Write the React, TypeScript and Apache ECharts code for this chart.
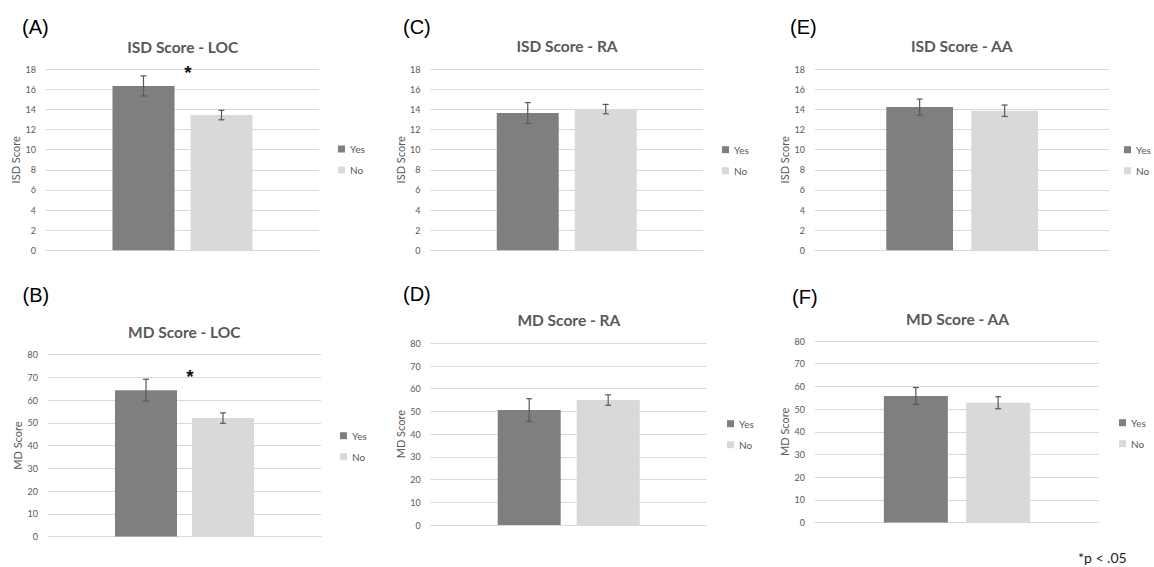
import React, { useEffect, useRef } from "react";
import * as echarts from "echarts";

// ---------- data ----------
const groups = ["Yes", "No"];

const isdLocMean = [16.35, 13.45];
const isdLocErr = [1.0, 0.47];
const mdLocMean = [64.4, 52.1];
const mdLocErr = [4.8, 2.3];

const isdRaMean = [13.65, 14.04];
const isdRaErr = [1.04, 0.47];
const mdRaMean = [50.6, 55.0];
const mdRaErr = [5.0, 2.3];

const isdAaMean = [14.24, 13.88];
const isdAaErr = [0.8, 0.57];
const mdAaMean = [55.8, 52.8];
const mdAaErr = [3.7, 2.65];

const isdAxisMax = 18;
const isdAxisStep = 2;
const mdAxisMax = 80;
const mdAxisStep = 10;

// significance marker heights (value units) for the LOC panels
const sigIsdLoc = [18];
const sigMdLoc = [72];

const panelLabels = ["(A)", "(B)", "(C)", "(D)", "(E)", "(F)"];
const panelTitles = [
  "ISD Score - LOC",
  "MD Score - LOC",
  "ISD Score - RA",
  "MD Score - RA",
  "ISD Score - AA",
  "MD Score - AA",
];
const axisNames = ["ISD Score", "MD Score", "ISD Score", "MD Score", "ISD Score", "MD Score"];
const footnote = "*p < .05";

// ---------- layout ----------
const panels = [
  { mean: isdLocMean, err: isdLocErr, max: isdAxisMax, step: isdAxisStep, sig: sigIsdLoc,
    grid: { left: 46, top: 69.3, width: 273, height: 181 }, barW: 62, gap: 16,
    legend: { left: 338, top: 143 }, title: [182.7, 46.5], label: [22, 26.5] },
  { mean: mdLocMean, err: mdLocErr, max: mdAxisMax, step: mdAxisStep, sig: sigMdLoc,
    grid: { left: 48, top: 354.7, width: 273, height: 181.8 }, barW: 62, gap: 15,
    legend: { left: 340, top: 429.7 }, title: [184.3, 332], label: [22.5, 295] },
  { mean: isdRaMean, err: isdRaErr, max: isdAxisMax, step: isdAxisStep, sig: [],
    grid: { left: 430.5, top: 69.3, width: 272.5, height: 181 }, barW: 62, gap: 16,
    legend: { left: 722, top: 143.7 }, title: [567, 46], label: [403, 27] },
  { mean: mdRaMean, err: mdRaErr, max: mdAxisMax, step: mdAxisStep, sig: [],
    grid: { left: 430.7, top: 343.3, width: 276, height: 181.7 }, barW: 63, gap: 16,
    legend: { left: 727, top: 417.7 }, title: [568.8, 320], label: [403, 294] },
  { mean: isdAaMean, err: isdAaErr, max: isdAxisMax, step: isdAxisStep, sig: [],
    grid: { left: 815, top: 69.3, width: 294.3, height: 181 }, barW: 66.7, gap: 18.3,
    legend: { left: 1124, top: 143.7 }, title: [961.7, 46], label: [790, 26.5] },
  { mean: mdAaMean, err: mdAaErr, max: mdAxisMax, step: mdAxisStep, sig: [],
    grid: { left: 815, top: 341, width: 284, height: 181.6 }, barW: 64, gap: 18.3,
    legend: { left: 1119, top: 416.7 }, title: [957.5, 318.5], label: [792, 297] },
];

const YES_COLOR = "#7f7f7f";
const NO_COLOR = "#d9d9d9";
const GRID_COLOR = "#d9d9d9";
const TEXT_COLOR = "#595959";
const EXCEL_FONT = "Lato, 'Open Sans', sans-serif";

function buildOption() {
  const grid: any[] = [];
  const xAxis: any[] = [];
  const yAxis: any[] = [];
  const series: any[] = [];
  const legend: any[] = [];
  const graphic: any[] = [];

  panels.forEach((p, i) => {
    grid.push({ ...p.grid, containLabel: false });
    xAxis.push({
      type: "category",
      gridIndex: i,
      data: [""],
      axisLine: { show: true, lineStyle: { color: GRID_COLOR, width: 1 } },
      axisTick: { show: false },
      axisLabel: { show: false },
    });
    yAxis.push({
      type: "value",
      gridIndex: i,
      min: 0,
      max: p.max,
      interval: p.step,
      name: axisNames[i],
      nameLocation: "middle",
      nameGap: 25,
      nameTextStyle: { fontSize: 11, color: TEXT_COLOR, fontFamily: EXCEL_FONT },
      axisLine: { show: false },
      axisTick: { show: false },
      axisLabel: { fontSize: 9, color: TEXT_COLOR, fontFamily: EXCEL_FONT, margin: 10 },
      splitLine: { show: true, lineStyle: { color: GRID_COLOR, width: 1 } },
    });
    const gapPct = ((p.gap / p.barW) * 100).toFixed(1) + "%";
    groups.forEach((g, k) => {
      series.push({
        type: "bar",
        name: g,
        xAxisIndex: i,
        yAxisIndex: i,
        data: [p.mean[k]],
        barWidth: p.barW,
        barGap: gapPct,
        itemStyle: { color: k === 0 ? YES_COLOR : NO_COLOR },
        z: 2,
      });
    });
    const errData = groups.map((_, k) => [0, p.mean[k], p.err[k], k]);
    series.push({
      type: "custom",
      name: "err" + i,
      xAxisIndex: i,
      yAxisIndex: i,
      z: 5,
      silent: true,
      encode: { x: 0, y: 1 },
      data: errData,
      renderItem: (params: any, api: any) => {
        const mean = api.value(1);
        const e = api.value(2);
        const k = api.value(3);
        const c = api.coord([0, mean]);
        const off = ((p.barW + p.gap) / 2) * (k === 0 ? -1 : 1);
        const x = c[0] + off;
        const yTop = api.coord([0, mean + e])[1];
        const yBot = api.coord([0, mean - e])[1];
        const st = { stroke: "#595959", lineWidth: 1.2 };
        return {
          type: "group",
          children: [
            { type: "line", shape: { x1: x, y1: yTop, x2: x, y2: yBot }, style: st },
            { type: "line", shape: { x1: x - 3, y1: yTop, x2: x + 3, y2: yTop }, style: st },
            { type: "line", shape: { x1: x - 3, y1: yBot, x2: x + 3, y2: yBot }, style: st },
          ],
        };
      },
    });
    if (p.sig.length) {
      series.push({
        type: "custom",
        name: "sig" + i,
        xAxisIndex: i,
        yAxisIndex: i,
        z: 6,
        silent: true,
        encode: { x: 0, y: 1 },
        data: p.sig.map((v) => [0, v]),
        renderItem: (params: any, api: any) => {
          const c = api.coord([0, api.value(1)]);
          return {
            type: "text",
            x: c[0] + 5.5,
            y: c[1] + 3.5,
            style: {
              text: "*",
              fill: "#111",
              fontSize: 19,
              fontWeight: "bold",
              fontFamily: "'Liberation Sans', Arial, sans-serif",
              align: "center",
              verticalAlign: "middle",
            },
          };
        },
      });
    }
    legend.push({
      data: groups,
      orient: "vertical",
      left: p.legend.left,
      top: p.legend.top,
      padding: 0,
      itemGap: 9,
      itemWidth: 7,
      itemHeight: 7,
      icon: "rect",
      selectedMode: false,
      textStyle: { fontSize: 10, color: TEXT_COLOR, fontFamily: EXCEL_FONT, lineHeight: 12 },
    });
    graphic.push({
      type: "text",
      x: p.title[0],
      y: p.title[1],
      style: {
        text: panelTitles[i],
        fill: TEXT_COLOR,
        fontSize: 15.5,
        fontWeight: "bold",
        fontFamily: EXCEL_FONT,
        textAlign: "center",
        textVerticalAlign: "middle",
        align: "center",
        verticalAlign: "middle",
      },
    });
    graphic.push({
      type: "text",
      x: p.label[0],
      y: p.label[1],
      style: {
        text: panelLabels[i],
        fill: "#000",
        fontSize: 20,
        fontFamily: "'Liberation Sans', Arial, sans-serif",
        textAlign: "left",
        textVerticalAlign: "middle",
        align: "left",
        verticalAlign: "middle",
      },
    });
  });

  graphic.push({
    type: "text",
    x: 1078,
    y: 557,
    style: {
      text: footnote,
      fill: "#222",
      fontSize: 14,
      fontFamily: EXCEL_FONT,
      textAlign: "left",
      textVerticalAlign: "middle",
      align: "left",
      verticalAlign: "middle",
    },
  });

  return {
    animation: false,
    backgroundColor: "#ffffff",
    grid,
    xAxis,
    yAxis,
    series,
    legend,
    graphic,
  };
}

export default function App() {
  const ref = useRef<HTMLDivElement>(null);
  useEffect(() => {
    if (!ref.current) return;
    const chart = echarts.init(ref.current, undefined, { renderer: "svg" });
    chart.setOption(buildOption() as any);
    return () => chart.dispose();
  }, []);
  return (
    <div
      ref={ref}
      style={{ position: "absolute", left: 0, top: 0, width: 1154, height: 567, background: "#fff" }}
    />
  );
}
